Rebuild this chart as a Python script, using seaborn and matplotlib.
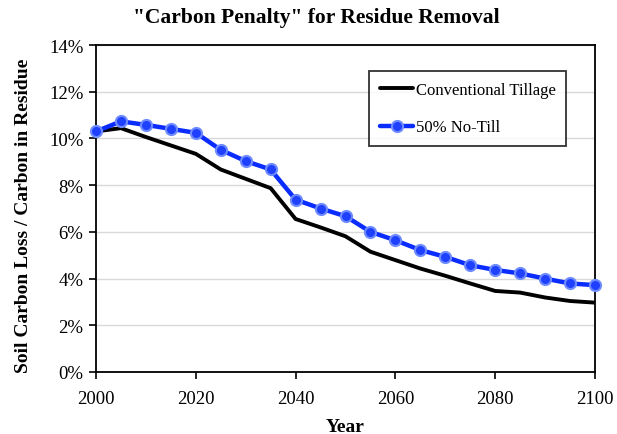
import numpy as np
import pandas as pd
import matplotlib
matplotlib.use("Agg")
import matplotlib.pyplot as plt
import seaborn as sns
from matplotlib.ticker import PercentFormatter

years = list(range(2000, 2101, 5))
conventional = [10.30, 10.44, 10.06, 9.70, 9.34, 8.67, 8.27, 7.87, 6.55, 6.19, 5.81,
                5.15, 4.79, 4.43, 4.12, 3.79, 3.47, 3.40, 3.19, 3.04, 2.97]
no_till = [10.30, 10.73, 10.58, 10.41, 10.24, 9.51, 9.03, 8.67, 7.38, 7.00, 6.67,
           6.00, 5.64, 5.22, 4.93, 4.57, 4.37, 4.22, 4.00, 3.79, 3.72]
series_names = ["Conventional Tillage", "50% No-Till"]
title = '"Carbon Penalty" for Residue Removal'
xlabel = "Year"
ylabel = "Soil Carbon Loss / Carbon in Residue"

df = pd.DataFrame({"Year": years, series_names[0]: conventional, series_names[1]: no_till})

sns.set_theme(style="white")
plt.rcParams["font.family"] = ["Liberation Serif", "DejaVu Serif"]
plt.rcParams["text.color"] = "black"
plt.rcParams["axes.labelcolor"] = "black"
plt.rcParams["xtick.color"] = "black"
plt.rcParams["ytick.color"] = "black"

fig = plt.figure(figsize=(6.17, 4.35), dpi=100)
ax = fig.add_axes([96/617, 1-373/435, (595-96)/617, (373-46)/435])

sns.lineplot(data=df, x="Year", y=series_names[0], ax=ax, color="black", linewidth=2.8,
             label=series_names[0], zorder=3)
sns.lineplot(data=df, x="Year", y=series_names[1], ax=ax, color="#0a2cff", linewidth=3.2,
             marker="o", markersize=8, markerfacecolor="#2040ff", markeredgecolor="#6f8cff",
             markeredgewidth=1.5, label=series_names[1], zorder=4, clip_on=False)

ax.set_xlim(2000, 2100)
ax.set_ylim(0, 14)
ax.set_xticks(range(2000, 2101, 20))
ax.set_yticks(range(0, 15, 2))
ax.yaxis.set_major_formatter(PercentFormatter(decimals=0))
ax.grid(axis="y", color="#d9d9d9", linewidth=1)
ax.set_axisbelow(True)
for s in ax.spines.values():
    s.set_color("black")
    s.set_linewidth(1.3)
ax.tick_params(axis="both", direction="out", length=5, width=1.2, color="black",
               labelsize=13.5, bottom=True, left=True, labelcolor="black")
ax.tick_params(axis="x", pad=8)
ax.tick_params(axis="y", pad=4)

fig.text(316/617, 1-18/435, title, ha="center", va="center", fontsize=15.5,
         fontweight="bold", color="black")
ax.set_xlabel(xlabel, fontsize=14, fontweight="bold", labelpad=8, color="black")
ax.set_ylabel("")
fig.text(24/617, 1-216/435, ylabel, rotation=90, ha="center", va="center",
         fontsize=14, fontweight="bold", color="black")

leg = ax.legend(loc="upper left", bbox_to_anchor=((369-96)/499, 1-(72-46)/327),
                frameon=True, fancybox=False, fontsize=12, borderpad=0.65,
                labelspacing=1.3, handlelength=2.0, handletextpad=0.15, borderaxespad=0)
leg.get_frame().set_edgecolor("black")
leg.get_frame().set_linewidth(1.3)
for t in leg.get_texts():
    t.set_color("black")

fig.savefig("out.png", dpi=100)
